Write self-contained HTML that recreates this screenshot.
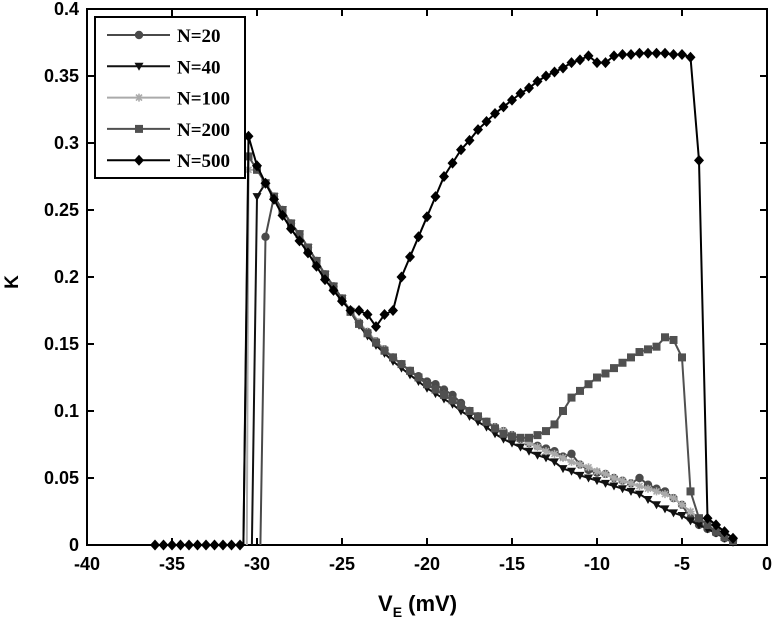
<!DOCTYPE html>
<html><head><meta charset="utf-8"><style>
body{margin:0;background:#fff;}
svg text{font-family:"Liberation Sans",sans-serif;font-weight:bold;}
</style></head><body>
<svg width="774" height="620" id="c"></svg>
<script>
const xGrid=[-30.5,-30,-29.5,-29,-28.5,-28,-27.5,-27,-26.5,-26,-25.5,-25,-24.5,-24,-23.5,-23,-22.5,-22,-21.5,-21,-20.5,-20,-19.5,-19,-18.5,-18,-17.5,-17,-16.5,-16,-15.5,-15,-14.5,-14,-13.5,-13,-12.5,-12,-11.5,-11,-10.5,-10,-9.5,-9,-8.5,-8,-7.5,-7,-6.5,-6,-5.5,-5,-4.5,-4,-3.5,-3,-2.5,-2];
const zeroX=[-36,-35.5,-35,-34.5,-34,-33.5,-33,-32.5,-32,-31.5,-31];
const n20=[0,0,0.23,0.26,0.25,0.24,0.232,0.222,0.212,0.202,0.193,0.184,0.175,0.166,0.159,0.152,0.146,0.14,0.135,0.13,0.126,0.122,0.12,0.116,0.112,0.106,0.1,0.096,0.092,0.088,0.085,0.082,0.079,0.076,0.074,0.072,0.07,0.066,0.068,0.06,0.056,0.054,0.053,0.05,0.048,0.046,0.05,0.045,0.042,0.04,0.035,0.03,0.02,0.015,0.012,0.009,0.005,0.003];
const n40=[0.26,0.26,0.27,0.26,0.25,0.24,0.232,0.222,0.212,0.202,0.193,0.184,0.174,0.164,0.156,0.149,0.143,0.137,0.132,0.127,0.122,0.117,0.113,0.109,0.105,0.1,0.096,0.092,0.088,0.083,0.079,0.076,0.073,0.07,0.067,0.065,0.062,0.057,0.055,0.052,0.05,0.048,0.046,0.044,0.042,0.04,0.038,0.034,0.03,0.027,0.024,0.022,0.018,0.015,0.012,0.009,0.005,0.002];
const n100=[0.28,0.28,0.27,0.26,0.25,0.24,0.232,0.222,0.212,0.202,0.193,0.184,0.175,0.166,0.159,0.152,0.146,0.14,0.135,0.13,0.125,0.12,0.116,0.112,0.108,0.104,0.1,0.096,0.092,0.088,0.085,0.082,0.079,0.076,0.073,0.07,0.068,0.065,0.062,0.06,0.058,0.055,0.053,0.05,0.048,0.046,0.044,0.042,0.04,0.038,0.035,0.03,0.025,0.02,0.015,0.01,0.006,0.003];
const n200=[0.29,0.28,0.27,0.26,0.25,0.24,0.232,0.222,0.212,0.202,0.193,0.184,0.174,0.165,0.158,0.151,0.145,0.14,0.135,0.13,0.125,0.12,0.116,0.112,0.108,0.104,0.1,0.096,0.092,0.087,0.083,0.081,0.08,0.08,0.082,0.085,0.09,0.1,0.11,0.115,0.12,0.125,0.128,0.132,0.136,0.14,0.144,0.146,0.148,0.155,0.153,0.14,0.04,0.02,0.015,0.01,0.006,0.003];
const n500=[0.305,0.283,0.27,0.258,0.246,0.236,0.227,0.218,0.208,0.198,0.19,0.182,0.175,0.175,0.172,0.163,0.172,0.175,0.2,0.215,0.23,0.245,0.26,0.275,0.285,0.295,0.302,0.31,0.316,0.322,0.327,0.332,0.337,0.341,0.346,0.35,0.353,0.356,0.36,0.362,0.365,0.36,0.36,0.365,0.366,0.366,0.367,0.367,0.367,0.367,0.366,0.366,0.364,0.287,0.02,0.015,0.01,0.005];
const xTicks=[-40,-35,-30,-25,-20,-15,-10,-5,0];
const yTicks=[0,0.05,0.1,0.15,0.2,0.25,0.3,0.35,0.4];
const names=["N=20","N=40","N=100","N=200","N=500"];

const X0=87,X1=767,Y0=545,Y1=9;
const sx=v=>X0+(v+40)/40*(X1-X0);
const sy=v=>Y0-v/0.4*(Y0-Y1);
const NS="http://www.w3.org/2000/svg";
const svg=document.getElementById('c');
function mk(t,a,p){const e=document.createElementNS(NS,t);for(const k in a)e.setAttribute(k,a[k]);(p||svg).appendChild(e);return e;}
function marker(g,type,x,y,col){
  let e;
  if(type==='o')e=mk('circle',{cx:x,cy:y,r:4.2,fill:col},g);
  else if(type==='v')e=mk('polygon',{points:`${x-4.5},${y-3.5} ${x+4.5},${y-3.5} ${x},${y+4.5}`,fill:col},g);
  else if(type==='*')e=mk('path',{d:`M${x-4} ${y}H${x+4}M${x} ${y-4}V${y+4}M${x-3} ${y-3}L${x+3} ${y+3}M${x-3} ${y+3}L${x+3} ${y-3}`,stroke:col,'stroke-width':1.6,fill:'none'},g);
  else if(type==='s')e=mk('rect',{x:x-4,y:y-4,width:8,height:8,fill:col},g);
  else e=mk('polygon',{points:`${x},${y-5.5} ${x+5},${y} ${x},${y+5.5} ${x-5},${y}`,fill:col},g);
  return e;
}
const seriesDefs=[
 {data:n20,col:'#4a4a4a',m:'o',start:-29.8},
 {data:n40,col:'#111',m:'v',start:-30.3},
 {data:n100,col:'#aaa',m:'*',start:-30.6},
 {data:n200,col:'#505050',m:'s',start:-30.8},
 {data:n500,col:'#000',m:'d',start:-30.8}];

const ax=mk('g',{});


mk('rect',{x:X0,y:Y1,width:X1-X0,height:Y0-Y1,fill:'none',stroke:'#000','stroke-width':2},ax);
xTicks.forEach(t=>{const x=sx(t);
 mk('line',{x1:x,y1:Y0,x2:x,y2:Y0-7,stroke:'#000','stroke-width':2},ax);
 mk('line',{x1:x,y1:Y1,x2:x,y2:Y1+7,stroke:'#000','stroke-width':2},ax);
 const tx=mk('text',{x:x,y:Y0+25,'text-anchor':'middle','font-size':18},ax);tx.textContent=t;
 });
yTicks.forEach(t=>{const y=sy(t);
 mk('line',{x1:X0,y1:y,x2:X0+7,y2:y,stroke:'#000','stroke-width':2},ax);
 mk('line',{x1:X1,y1:y,x2:X1-7,y2:y,stroke:'#000','stroke-width':2},ax);
 const tx=mk('text',{x:X0-8,y:y+6,'text-anchor':'end','font-size':18},ax);tx.textContent=t;
 });
const yl=mk('text',{x:18,y:282,'text-anchor':'middle','font-size':19,transform:'rotate(-90 18 282)'});yl.textContent='K';

const xl=mk('text',{x:378,y:611,'font-size':22});xl.innerHTML='V<tspan font-size="14" dy="6">E</tspan><tspan dy="-6"> (mV)</tspan>';


seriesDefs.forEach((s,i)=>{
 const g=mk('g',{});
 
 
 let pts=[];
 if(i===4) zeroX.forEach(x=>pts.push([x,0]));
 pts.push([s.start,0]);
 xGrid.forEach((x,j)=>{ if(x>=s.start-0.01 && !(s.data[j]===0)) pts.push([x,s.data[j]]); });
 mk('polyline',{points:pts.map(p=>sx(p[0])+','+sy(p[1])).join(' '),fill:'none',stroke:s.col,'stroke-width':2},g);
 pts.forEach((p,k)=>{ if(k===(i===4?zeroX.length:0))return; const m=marker(g,s.m,sx(p[0]),sy(p[1]),s.col);
  });
});

const lg=mk('g',{});


mk('rect',{x:95,y:17,width:150,height:161,fill:'#fff',stroke:'#000','stroke-width':2},lg);
seriesDefs.forEach((s,i)=>{
 const y=35+i*31.3;
 const e=mk('g',{},lg);
 
 
 mk('line',{x1:107,y1:y,x2:170,y2:y,stroke:s.col,'stroke-width':2},e);
 marker(e,s.m,139,y,s.col);
 const t=mk('text',{x:177,y:y+7,'font-size':19,style:'font-family:"Liberation Serif",serif;font-weight:bold'},e);
 t.textContent=names[i];
});
</script>
</body></html>
